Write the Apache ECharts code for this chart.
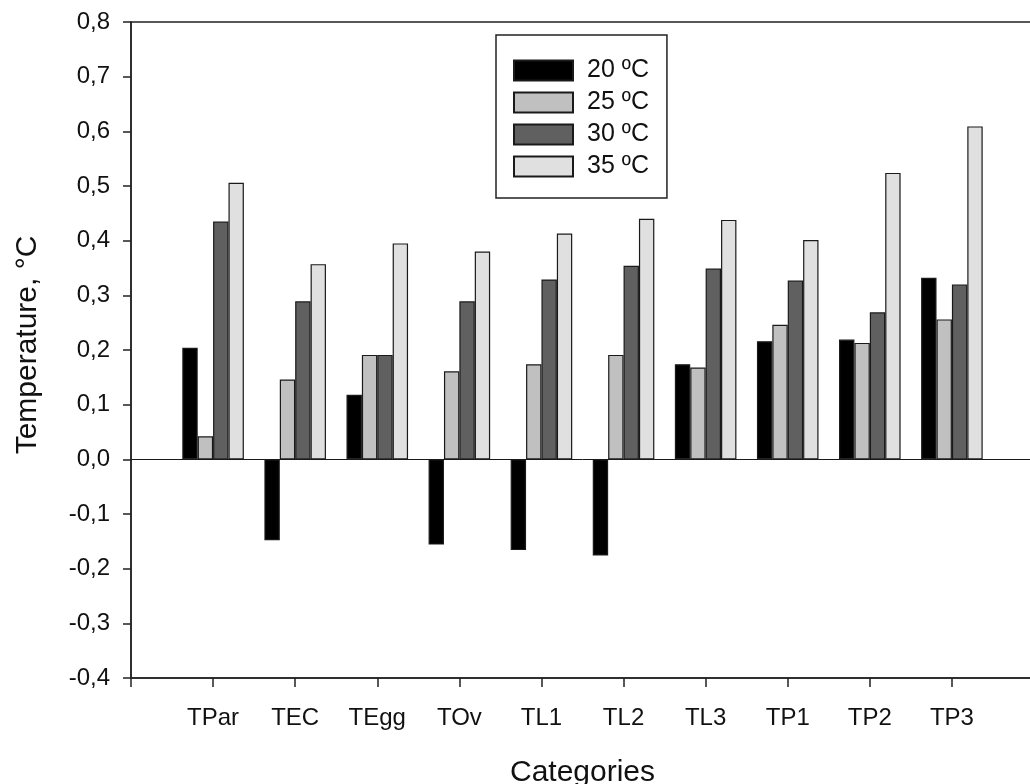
<!DOCTYPE html>
<html>
<head>
<meta charset="utf-8">
<script src="https://cdn.jsdelivr.net/npm/echarts@6/dist/echarts.min.js"></script>
<style>
html,body{margin:0;padding:0;background:#fff;overflow:hidden;}
#chart{width:1040px;height:784px;}
</style>
</head>
<body>
<div id="chart"></div>
<script>
var categories = ['TPar', 'TEC', 'TEgg', 'TOv', 'TL1', 'TL2', 'TL3', 'TP1', 'TP2', 'TP3'];
var seriesNames = ['20 ºC', '25 ºC', '30 ºC', '35 ºC'];
var c20 = [0.204, -0.148, 0.118, -0.156, -0.166, -0.176, 0.174, 0.216, 0.219, 0.332];
var c25 = [0.042, 0.146, 0.191, 0.161, 0.174, 0.191, 0.168, 0.246, 0.213, 0.256];
var c30 = [0.435, 0.289, 0.191, 0.289, 0.329, 0.354, 0.349, 0.327, 0.269, 0.320];
var c35 = [0.506, 0.357, 0.395, 0.380, 0.413, 0.440, 0.438, 0.401, 0.524, 0.609];
var yMin = -0.4, yMax = 0.8, yStep = 0.1;

var colors = ['#000000', '#c0c0c0', '#606060', '#e0e0e0'];
var FONT = 'Liberation Sans';
var axisData = [''].concat(categories).concat(['']);
function pad(arr) { return [null].concat(arr).concat([null]); }
var values = [c20, c25, c30, c35];

var series = values.map(function (v, i) {
  var s = {
    name: seriesNames[i],
    type: 'bar',
    data: pad(v),
    barGap: '0%',
    barCategoryGap: '25%',
    itemStyle: { color: colors[i], borderColor: '#1a1a1a', borderWidth: 1.2 },
    emphasis: { disabled: true },
    animation: false
  };
  if (i === 0) {
    s.markLine = {
      silent: true,
      symbol: 'none',
      label: { show: false },
      lineStyle: { color: '#1a1a1a', width: 1, type: 'solid' },
      data: [{ yAxis: 0 }],
      animation: false
    };
  }
  return s;
});

var chart = echarts.init(document.getElementById('chart'), null, { renderer: 'canvas' });
chart.setOption({
  backgroundColor: '#ffffff',
  animation: false,
  grid: {
    left: 131, top: 22, bottom: 106, right: 6,
    outerBoundsMode: 'none',
    containLabel: false,
    show: true, borderColor: '#222', borderWidth: 1.5, backgroundColor: 'transparent'
  },
  legend: {
    orient: 'vertical',
    left: 496, top: 35,
    padding: [23, 18, 19, 17],
    borderColor: '#222', borderWidth: 1.5,
    icon: 'rect',
    itemWidth: 59, itemHeight: 20, itemGap: 7,
    selectedMode: false,
    textStyle: { fontFamily: FONT, fontSize: 25, color: '#111', padding: [0, 0, 0, 9] },
    data: seriesNames
  },
  xAxis: {
    type: 'category',
    data: axisData,
    boundaryGap: false,
    name: 'Categories',
    nameLocation: 'middle',
    nameGap: 80,
    nameTextStyle: { fontFamily: FONT, fontSize: 30, color: '#111' },
    axisLine: { onZero: false, lineStyle: { color: '#222', width: 1.5 } },
    axisTick: { show: true, length: 9, interval: 0, lineStyle: { color: '#222', width: 1.5 } },
    axisLabel: { interval: 0, margin: 28, fontFamily: FONT, fontSize: 24, color: '#111' },
    splitLine: { show: false }
  },
  yAxis: {
    type: 'value',
    min: yMin, max: yMax, interval: yStep,
    name: 'Temperature, °C',
    nameLocation: 'middle',
    nameGap: 88,
    nameTextStyle: { fontFamily: FONT, fontSize: 30, color: '#111', padding: [0, 0, 0, 10] },
    axisLine: { show: true, lineStyle: { color: '#222', width: 1.5 } },
    axisTick: { show: true, length: 8, lineStyle: { color: '#222', width: 1.5 } },
    axisLabel: {
      margin: 21, fontFamily: FONT, fontSize: 24, color: '#111',
      formatter: function (v) { return (Math.round(v * 10) / 10).toFixed(1).replace('.', ','); }
    },
    splitLine: { show: false }
  },
  series: series
});
</script>
</body>
</html>
